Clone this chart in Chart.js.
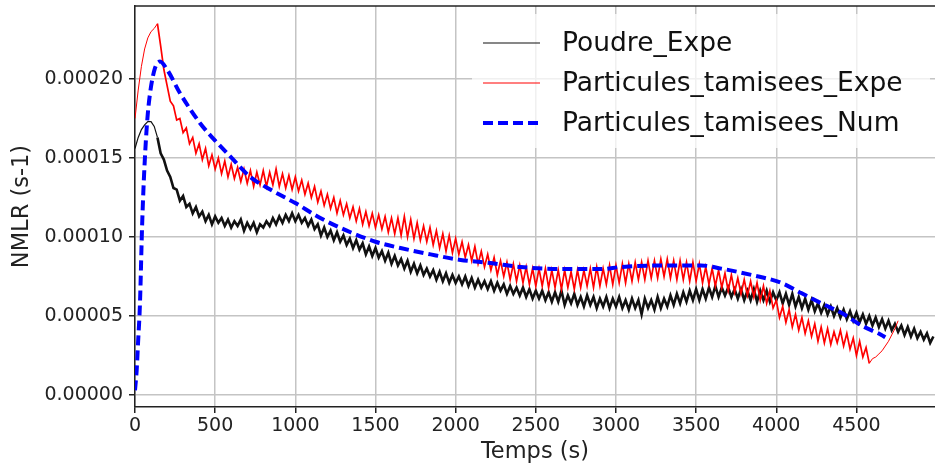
<!DOCTYPE html>
<html>
<head>
<meta charset="utf-8">
<title>NMLR</title>
<script src="https://cdn.jsdelivr.net/npm/chart.js@4.4.0/dist/chart.umd.min.js"></script>
<style>
  html, body { margin: 0; padding: 0; background: #fff; }
</style>
</head>
<body>
<canvas id="nmlrChart" width="935" height="468"></canvas>
<script>
// Values are in units of 1e-5 s-1 (axis labels convert them back)
var temps = [
  0, 20, 40, 60, 80, 100, 120, 140, 160, 180,
  200, 220, 240, 260, 280, 300, 320, 340, 360, 380,
  400, 420, 440, 460, 480, 500, 520, 540, 560, 580,
  600, 620, 640, 660, 680, 700, 720, 740, 760, 780,
  800, 820, 840, 860, 880, 900, 920, 940, 960, 980,
  1000, 1020, 1040, 1060, 1080, 1100, 1120, 1140, 1160, 1180,
  1200, 1220, 1240, 1260, 1280, 1300, 1320, 1340, 1360, 1380,
  1400, 1420, 1440, 1460, 1480, 1500, 1520, 1540, 1560, 1580,
  1600, 1620, 1640, 1660, 1680, 1700, 1720, 1740, 1760, 1780,
  1800, 1820, 1840, 1860, 1880, 1900, 1920, 1940, 1960, 1980,
  2000, 2020, 2040, 2060, 2080, 2100, 2120, 2140, 2160, 2180,
  2200, 2220, 2240, 2260, 2280, 2300, 2320, 2340, 2360, 2380,
  2400, 2420, 2440, 2460, 2480, 2500, 2520, 2540, 2560, 2580,
  2600, 2620, 2640, 2660, 2680, 2700, 2720, 2740, 2760, 2780,
  2800, 2820, 2840, 2860, 2880, 2900, 2920, 2940, 2960, 2980,
  3000, 3020, 3040, 3060, 3080, 3100, 3120, 3140, 3160, 3180,
  3200, 3220, 3240, 3260, 3280, 3300, 3320, 3340, 3360, 3380,
  3400, 3420, 3440, 3460, 3480, 3500, 3520, 3540, 3560, 3580,
  3600, 3620, 3640, 3660, 3680, 3700, 3720, 3740, 3760, 3780,
  3800, 3820, 3840, 3860, 3880, 3900, 3920, 3940, 3960, 3980,
  4000, 4020, 4040, 4060, 4080, 4100, 4120, 4140, 4160, 4180,
  4200, 4220, 4240, 4260, 4280, 4300, 4320, 4340, 4360, 4380,
  4400, 4420, 4440, 4460, 4480, 4500, 4520, 4540, 4560, 4580,
  4600, 4620, 4640, 4660, 4680, 4700, 4720, 4740, 4760, 4780,
  4800, 4820, 4840, 4860, 4880, 4900, 4920, 4940, 4960, 4980
];

var poudreExpe = [
  15.6, 16.3, 16.8, 17.1, 17.3, 17.3, 17.0, 16.3, 15.3, 14.9,
  14.2, 13.8, 13.1, 13.0, 12.3, 12.6, 11.9, 12.1, 11.5, 11.9,
  11.3, 11.6, 11.0, 11.4, 10.8, 11.3, 10.9, 11.2, 10.7, 11.1,
  10.6, 11.0, 10.7, 11.1, 10.4, 10.9, 10.5, 10.9, 10.3, 10.8,
  10.6, 11.0, 10.7, 11.2, 10.8, 11.3, 10.9, 11.4, 11.0, 11.5,
  11.0, 11.4, 10.9, 11.2, 10.7, 11.1, 10.5, 10.8, 10.1, 10.6,
  10.0, 10.4, 9.8, 10.3, 9.7, 10.1, 9.5, 9.9, 9.3, 9.8,
  9.2, 9.6, 8.9, 9.4, 8.8, 9.3, 8.7, 9.1, 8.5, 9.0,
  8.3, 8.8, 8.2, 8.6, 8.0, 8.5, 7.8, 8.3, 7.7, 8.2,
  7.6, 8.0, 7.5, 7.9, 7.3, 7.8, 7.2, 7.7, 7.1, 7.6,
  7.1, 7.5, 7.0, 7.5, 6.9, 7.4, 6.8, 7.3, 6.8, 7.2,
  6.7, 7.2, 6.6, 7.1, 6.6, 7.0, 6.4, 6.9, 6.4, 6.8,
  6.3, 6.8, 6.2, 6.7, 6.1, 6.6, 6.1, 6.6, 6.0, 6.5,
  5.9, 6.5, 5.9, 6.6, 5.7, 6.3, 5.8, 6.4, 5.7, 6.2,
  5.6, 6.3, 5.7, 6.2, 5.5, 6.1, 5.6, 6.2, 5.5, 6.1,
  5.6, 6.2, 5.5, 6.0, 5.4, 6.1, 5.5, 6.0, 5.1, 6.1,
  5.5, 6.0, 5.4, 6.2, 5.5, 6.1, 5.6, 6.3, 5.7, 6.4,
  5.8, 6.5, 5.9, 6.6, 6.0, 6.7, 6.0, 6.7, 6.1, 6.8,
  6.2, 6.9, 6.2, 6.8, 6.3, 6.8, 6.2, 6.7, 6.1, 6.7,
  6.0, 6.6, 6.0, 6.7, 5.9, 6.6, 6.0, 6.6, 5.9, 6.5,
  6.0, 6.5, 5.8, 6.4, 5.7, 6.4, 5.6, 6.2, 5.5, 6.1,
  5.4, 6.0, 5.3, 5.8, 5.2, 5.7, 5.1, 5.6, 5.0, 5.5,
  4.9, 5.4, 4.8, 5.3, 4.7, 5.2, 4.6, 5.1, 4.5, 5.0,
  4.4, 4.9, 4.3, 4.8, 4.2, 4.7, 4.1, 4.5, 4.0, 4.4,
  3.8, 4.3, 3.7, 4.2, 3.6, 4.0, 3.5, 3.9, 3.3, 3.7
];

// ends at 4760 s
var particulesExpe = [
  17.5, 19.3, 20.8, 21.9, 22.6, 23.0, 23.2, 23.5, 22.1, 20.6,
  19.6, 18.6, 18.3, 17.4, 17.5, 16.6, 16.9, 15.9, 16.3, 15.3,
  15.9, 14.9, 15.6, 14.5, 15.2, 14.3, 15.0, 14.0, 14.8, 13.8,
  14.6, 13.7, 14.4, 13.5, 14.3, 13.4, 14.2, 13.2, 14.1, 13.3,
  14.2, 13.2, 14.1, 13.3, 14.3, 13.2, 14.0, 13.1, 13.9, 13.0,
  13.8, 12.9, 13.6, 12.7, 13.4, 12.5, 13.2, 12.2, 12.9, 12.0,
  12.7, 11.8, 12.5, 11.5, 12.3, 11.4, 12.1, 11.2, 11.9, 11.0,
  11.8, 10.8, 11.6, 10.7, 11.5, 10.6, 11.4, 10.5, 11.3, 10.3,
  11.2, 10.2, 11.2, 10.1, 11.3, 10.0, 11.1, 9.9, 10.9, 9.8,
  10.7, 9.7, 10.6, 9.5, 10.4, 9.3, 10.2, 9.1, 10.1, 9.0,
  9.9, 8.9, 9.7, 8.7, 9.5, 8.5, 9.4, 8.3, 9.1, 8.1,
  8.9, 7.9, 8.7, 7.6, 8.5, 7.5, 8.4, 7.3, 8.3, 7.2,
  8.2, 7.1, 8.1, 7.0, 8.0, 6.9, 8.0, 6.9, 8.0, 6.8,
  7.9, 6.8, 7.9, 6.7, 7.9, 6.8, 7.8, 6.7, 7.9, 6.8,
  7.9, 6.9, 8.0, 6.8, 8.1, 6.9, 8.0, 7.0, 8.2, 7.0,
  8.2, 7.1, 8.3, 7.1, 8.3, 7.2, 8.4, 7.3, 8.4, 7.3,
  8.5, 7.4, 8.5, 7.4, 8.6, 7.5, 8.6, 7.4, 8.5, 7.3,
  8.5, 7.3, 8.4, 7.2, 8.4, 7.2, 8.3, 7.1, 8.1, 7.0,
  8.0, 6.9, 7.9, 6.8, 7.7, 6.6, 7.6, 6.5, 7.4, 6.4,
  7.3, 6.3, 7.2, 6.2, 7.1, 6.0, 6.9, 5.8, 6.6, 5.5,
  6.0, 4.9, 5.6, 4.6, 5.4, 4.3, 5.1, 4.1, 4.9, 3.9,
  4.7, 3.7, 4.5, 3.4, 4.3, 3.3, 4.2, 3.2, 4.0, 3.3,
  4.1, 3.1, 3.9, 2.9, 3.6, 2.5, 3.4, 2.4, 3.0, 2.0,
  2.3, 2.4, 2.6, 2.8, 3.1, 3.4, 3.8, 4.2, 4.7
];

var tempsNum = [
  0, 10, 19, 31, 44, 56, 75, 94, 125, 156,
  200, 281, 406, 500, 594, 719, 844, 1000, 1156, 1344,
  1500, 1656, 1844, 2031, 2219, 2406, 2656, 2906, 3031, 3281,
  3531, 3656, 3844, 4031, 4156, 4281, 4406, 4531, 4656, 4680
];
var particulesNum = [
  0.3, 1.5, 3.3, 5.8, 10.6, 13.8, 17.2, 19.1, 20.7, 21.1,
  20.6, 19.1, 17.2, 16.1, 15.1, 13.8, 13.0, 12.15, 11.2, 10.3,
  9.7, 9.3, 8.9, 8.55, 8.35, 8.1, 7.97, 7.97, 8.1, 8.2,
  8.2, 8.0, 7.6, 7.1, 6.45, 5.8, 5.2, 4.4, 3.8, 3.65
];

var xTicks = [0, 500, 1000, 1500, 2000, 2500, 3000, 3500, 4000, 4500];
var yTicks = [0, 5, 10, 15, 20];
var yTickLabels = ['0.00000', '0.00005', '0.00010', '0.00015', '0.00020'];

var seriesNames = ['Poudre_Expe', 'Particules_tamisees_Expe', 'Particules_tamisees_Num'];

var FONT = "'DejaVu Sans', sans-serif";

function toPoints(xs, ys) {
    return ys.map(function (v, i) { return { x: xs[i], y: v }; });
}

// thin pen where the measured signal is smooth, thicker where it is noisy
function noisyWidth(thin, thick, smoothBefore, smoothAfter) {
    return function (seg) {
        var x = seg.p1.parsed.x;
        return (x <= smoothBefore || seg.p0.parsed.x >= smoothAfter) ? thin : thick;
    };
}

// top spine, like the matplotlib frame
var topSpine = {
    id: 'topSpine',
    afterDraw: function (chart) {
        var ctx = chart.ctx, a = chart.chartArea;
        ctx.save();
        ctx.strokeStyle = '#222';
        ctx.lineWidth = 1.5;
        ctx.beginPath();
        ctx.moveTo(a.left, a.top);
        ctx.lineTo(a.right, a.top);
        ctx.stroke();
        ctx.restore();
    }
};

// legend drawn inside the plot, upper right
var insideLegend = {
    id: 'insideLegend',
    afterDraw: function (chart) {
        var ctx = chart.ctx;
        var swatchWidth = [1.2, 1.2, 4];
        ctx.save();
        ctx.fillStyle = 'rgba(255,255,255,0.75)';
        ctx.beginPath();
        ctx.roundRect(472, 14, 458, 134, 4);
        ctx.fill();
        chart.data.datasets.forEach(function (ds, i) {
            var y = 43 + i * 40;
            ctx.strokeStyle = ds.borderColor;
            ctx.lineWidth = swatchWidth[i];
            ctx.setLineDash(ds.borderDash || []);
            ctx.beginPath();
            ctx.moveTo(483, y);
            ctx.lineTo(540, y);
            ctx.stroke();
            ctx.setLineDash([]);
            ctx.fillStyle = '#111';
            ctx.font = '26.5px ' + FONT;
            ctx.textBaseline = 'middle';
            ctx.textAlign = 'left';
            ctx.fillText(ds.label, 562, y + 1);
        });
        ctx.restore();
    }
};

var ctx = document.getElementById('nmlrChart').getContext('2d');
var chart = new Chart(ctx, {
    type: 'line',
    data: {
        datasets: [
            {
                label: seriesNames[0],
                data: toPoints(temps, poudreExpe),
                borderColor: '#111111',
                borderWidth: 2.6,
                segment: { borderWidth: noisyWidth(1.2, 2.6, 140, 99999) },
                order: 2
            },
            {
                label: seriesNames[1],
                data: toPoints(temps, particulesExpe),
                borderColor: '#ff0000',
                borderWidth: 1.7,
                segment: { borderWidth: noisyWidth(1, 1.7, 140, 4580) },
                order: 1
            },
            {
                label: seriesNames[2],
                data: toPoints(tempsNum, particulesNum),
                borderColor: '#0000ff',
                borderWidth: 4,
                borderDash: [10, 5],
                cubicInterpolationMode: 'monotone',
                order: 0
            }
        ]
    },
    options: {
        responsive: false,
        animation: false,
        layout: { padding: { top: 6, right: 0, bottom: 0, left: 0 } },
        elements: { point: { radius: 0 }, line: { tension: 0 } },
        plugins: {
            legend: { display: false },
            tooltip: { enabled: false }
        },
        scales: {
            x: {
                type: 'linear',
                min: 0,
                max: 4990,
                afterBuildTicks: function (s) { s.ticks = xTicks.map(function (v) { return { value: v }; }); },
                afterFit: function (s) { s.height = 61; s.paddingLeft = 0; s.paddingRight = 0; },
                ticks: {
                    font: { family: FONT, size: 19 },
                    color: '#222',
                    padding: 2,
                    maxRotation: 0,
                    autoSkip: false,
                    callback: function (v) { return String(v); }
                },
                grid: { color: '#c4c4c4', lineWidth: 1.5, tickLength: 6, tickColor: '#222' },
                border: { color: '#222', width: 1.5 },
                title: {
                    display: true,
                    text: 'Temps (s)',
                    font: { family: FONT, size: 22.5 },
                    color: '#222',
                    padding: { top: 0, bottom: 2 }
                }
            },
            y: {
                min: -0.76,
                max: 24.62,
                afterBuildTicks: function (s) { s.ticks = yTicks.map(function (v) { return { value: v }; }); },
                afterFit: function (s) { s.width = 135; s.paddingTop = 0; s.paddingBottom = 0; },
                ticks: {
                    font: { family: FONT, size: 19 },
                    color: '#222',
                    padding: 6,
                    callback: function (v) { return yTickLabels[yTicks.indexOf(v)]; }
                },
                grid: { color: '#c4c4c4', lineWidth: 1.5, tickLength: 6, tickColor: '#222' },
                border: { color: '#222', width: 1.5 },
                title: {
                    display: true,
                    text: 'NMLR (s-1)',
                    font: { family: FONT, size: 22.5 },
                    color: '#222',
                    padding: { top: 9, bottom: 0 }
                }
            }
        }
    },
    plugins: [topSpine, insideLegend]
});
</script>
</body>
</html>
